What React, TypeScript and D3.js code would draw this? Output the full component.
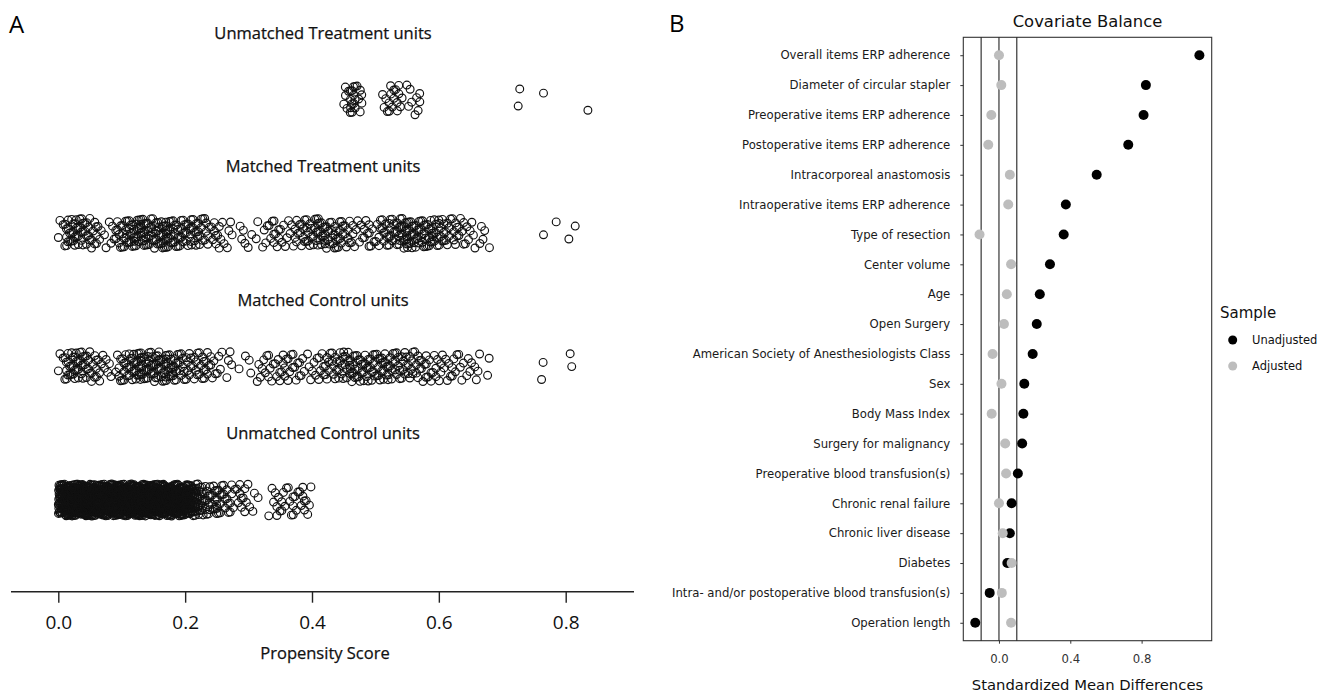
import * as d3 from 'd3'
import { useEffect, useRef } from 'react'

// Panel A: propensity score counts per 0.01 bin, starting at 0.00
const binWidth = 0.01

const unmatchedTreatedCounts = [
    0, 0, 0, 0, 0, 0, 0, 0, 0, 0,
    0, 0, 0, 0, 0, 0, 0, 0, 0, 0,
    0, 0, 0, 0, 0, 0, 0, 0, 0, 0,
    0, 0, 0, 0, 0, 0, 0, 0, 0, 0,
    0, 0, 0, 0, 0, 5, 13, 6, 0, 0,
    0, 4, 7, 6, 2, 3, 5, 0, 0, 0,
    0, 0, 0, 0, 0, 0, 0, 0, 0, 0,
    0, 0, 2, 0, 0, 0, 1, 0, 0, 0,
    0, 0, 0, 1,
]

const matchedTreatedCounts = [
    3, 10, 12, 11, 9, 7, 4, 2, 4, 8,
    11, 12, 12, 13, 12, 12, 13, 12, 11, 10,
    10, 9, 8, 7, 6, 5, 3, 2, 2, 3,
    1, 2, 4, 5, 5, 4, 4, 6, 8, 9,
    10, 10, 9, 10, 9, 7, 5, 4, 5, 5,
    6, 8, 10, 11, 12, 12, 11, 12, 10, 10,
    9, 7, 7, 6, 4, 3, 3, 2, 0, 0,
    0, 0, 0, 0, 0, 0, 1, 0, 1, 0,
    1, 1,
]

const matchedControlCounts = [
    3, 10, 12, 11, 9, 7, 5, 4, 2, 6,
    9, 11, 12, 12, 12, 13, 12, 12, 10, 9,
    8, 7, 7, 6, 5, 4, 2, 2, 1, 1,
    2, 3, 4, 5, 5, 6, 5, 5, 4, 3,
    4, 6, 7, 8, 8, 9, 10, 9, 10, 9,
    9, 9, 8, 9, 8, 8, 7, 6, 5, 5,
    5, 4, 5, 4, 3, 3, 2, 2, 0, 0,
    0, 0, 0, 0, 0, 0, 2, 0, 0, 0,
    2,
]

const unmatchedControlCounts = [
    45, 60, 60, 60, 60, 58, 56, 56, 56, 55,
    55, 55, 54, 54, 52, 52, 50, 48, 46, 42,
    38, 28, 16, 12, 10, 9, 8, 6, 6, 5,
    3, 1, 0, 3, 5, 5, 4, 5, 6, 4,
]

const groupTitles = [
    'Unmatched Treatment units',
    'Matched Treatment units',
    'Matched Control units',
    'Unmatched Control units',
]
const psTicks = [0, 0.2, 0.4, 0.6, 0.8]

// Panel B: standardized mean differences
const covariates = [
    'Overall items ERP adherence',
    'Diameter of circular stapler',
    'Preoperative items ERP adherence',
    'Postoperative items ERP adherence',
    'Intracorporeal anastomosis',
    'Intraoperative items ERP adherence',
    'Type of resection',
    'Center volume',
    'Age',
    'Open Surgery',
    'American Society of Anesthesiologists Class',
    'Sex',
    'Body Mass Index',
    'Surgery for malignancy',
    'Preoperative blood transfusion(s)',
    'Chronic renal failure',
    'Chronic liver disease',
    'Diabetes',
    'Intra- and/or postoperative blood transfusion(s)',
    'Operation length',
]
const smdUnadjusted = [
    1.124, 0.824, 0.811, 0.725, 0.548, 0.375, 0.363, 0.286, 0.229, 0.212,
    0.189, 0.142, 0.137, 0.13, 0.106, 0.071, 0.061, 0.047, -0.052, -0.133,
]
const smdAdjusted = [
    0.0, 0.013, -0.043, -0.06, 0.061, 0.052, -0.109, 0.068, 0.044, 0.028,
    -0.036, 0.014, -0.041, 0.035, 0.04, 0.0, 0.021, 0.071, 0.016, 0.068,
]
const smdTicks = [0, 0.4, 0.8]
const thresholds = [-0.1, 0, 0.1]
const sampleLabels = ['Unadjusted', 'Adjusted']
const sampleColors = ['#000000', '#bdbdbd']

const fontA = '"Open Sans", sans-serif'
const fontB = '"DejaVu Sans", sans-serif'

// place each bin's points with an R2 low-discrepancy jitter (x inside bin, y in band)
function jitterPoints(counts: number[]) {
    const pts: { score: number; u: number }[] = []
    let i = 0
    counts.forEach((n, k) => {
        for (let j = 0; j < n; j++) {
            i++
            const fx = n === 1 ? 0.5 : (0.5 + i * 0.7548776662) % 1
            pts.push({
                score: (k + fx) * binWidth,
                u: (0.5 + i * 0.569840291) % 1,
            })
        }
    })
    return pts
}

export default function App() {
    const ref = useRef<SVGSVGElement>(null)

    useEffect(() => {
        const svg = d3.select(ref.current)
        svg.selectAll('*').remove()

        // ---------- Panel A ----------
        const xPs = d3.scaleLinear().domain([0, 0.8]).range([58.3, 565.7])
        const yRow = d3.scalePoint().domain(groupTitles).range([100, 500])
        const rows = [
            unmatchedTreatedCounts,
            matchedTreatedCounts,
            matchedControlCounts,
            unmatchedControlCounts,
        ]

        svg.append('text')
            .attr('x', 9)
            .attr('y', 33)
            .attr('font-family', fontA)
            .attr('font-size', 24)
            .text('A')

        const gA = svg.append('g')

        groupTitles.forEach((title, r) => {
            const cy = yRow(title) as number
            gA.append('text')
                .attr('x', 323)
                .attr('y', cy - 61)
                .attr('text-anchor', 'middle')
                .attr('font-family', fontA)
                .attr('font-size', 16.5)
                .attr('fill', '#111')
                .attr('stroke', '#111')
                .attr('stroke-width', 0.25)
                .text(title)

            const amp = r === 3 ? 16 : 15
            gA.append('g')
                .selectAll('circle')
                .data(jitterPoints(rows[r]))
                .enter()
                .append('circle')
                .attr('cx', (d) => xPs(d.score))
                .attr('cy', (d) => cy + (d.u - 0.5) * 2 * amp)
                .attr('r', 3.9)
                .attr('fill', 'none')
                .attr('stroke', '#111')
                .attr('stroke-width', 1.15)
        })

        gA.append('line')
            .attr('x1', 11)
            .attr('x2', 634)
            .attr('y1', 591.7)
            .attr('y2', 591.7)
            .attr('stroke', '#222')
            .attr('stroke-width', 1.4)

        const axisPs = d3
            .axisBottom(xPs)
            .tickValues(psTicks)
            .tickFormat(d3.format('.1f'))
            .tickSize(11)
            .tickSizeOuter(0)
            .tickPadding(13)
        const gAxA = gA.append('g').attr('transform', 'translate(0, 591.7)').call(axisPs)
        gAxA.select('.domain').remove()
        gAxA.selectAll('.tick line').attr('stroke', '#222').attr('stroke-width', 1.4)
        gAxA.selectAll('.tick text')
            .attr('font-family', fontA)
            .attr('font-size', 19)
            .attr('fill', '#111')

        gA.append('text')
            .attr('x', 325)
            .attr('y', 659)
            .attr('text-anchor', 'middle')
            .attr('font-family', fontA)
            .attr('font-size', 16.5)
            .attr('fill', '#111')
            .attr('stroke', '#111')
            .attr('stroke-width', 0.25)
            .text('Propensity Score')

        // ---------- Panel B ----------
        const xSmd = d3.scaleLinear().domain([-0.2, 1.193]).range([963.3, 1211.7])
        const yCov = d3.scalePoint().domain(covariates).range([37.3, 640.7]).padding(0.6)

        svg.append('text')
            .attr('x', 669)
            .attr('y', 32)
            .attr('font-family', fontA)
            .attr('font-size', 24)
            .text('B')

        const gB = svg.append('g')

        gB.append('text')
            .attr('x', 1087.5)
            .attr('y', 27)
            .attr('text-anchor', 'middle')
            .attr('font-family', fontB)
            .attr('font-size', 16.4)
            .attr('fill', '#111')
            .text('Covariate Balance')

        gB.append('rect')
            .attr('x', 963.3)
            .attr('y', 37.3)
            .attr('width', 248.4)
            .attr('height', 603.4)
            .attr('fill', 'none')
            .attr('stroke', '#333')
            .attr('stroke-width', 1.1)

        gB.selectAll('.thr')
            .data(thresholds)
            .enter()
            .append('line')
            .attr('class', 'thr')
            .attr('x1', (d) => xSmd(d))
            .attr('x2', (d) => xSmd(d))
            .attr('y1', 37.3)
            .attr('y2', 640.7)
            .attr('stroke', '#222')
            .attr('stroke-width', 1.1)

        const axisCov = d3.axisLeft(yCov).tickSize(3).tickPadding(10)
        const gAxL = gB.append('g').attr('transform', 'translate(963.3, 0)').call(axisCov)
        gAxL.select('.domain').remove()
        gAxL.selectAll('.tick line').attr('stroke', '#333')
        gAxL.selectAll('.tick text')
            .attr('font-family', fontB)
            .attr('font-size', 11.7)
            .attr('fill', '#1a1a1a')

        const axisSmd = d3
            .axisBottom(xSmd)
            .tickValues(smdTicks)
            .tickFormat(d3.format('.1f'))
            .tickSize(3)
            .tickSizeOuter(0)
            .tickPadding(11)
        const gAxB = gB.append('g').attr('transform', 'translate(0, 640.7)').call(axisSmd)
        gAxB.select('.domain').remove()
        gAxB.selectAll('.tick line').attr('stroke', '#333')
        gAxB.selectAll('.tick text')
            .attr('font-family', fontB)
            .attr('font-size', 11.7)
            .attr('fill', '#333')

        gB.append('text')
            .attr('x', 1087.5)
            .attr('y', 690)
            .attr('text-anchor', 'middle')
            .attr('font-family', fontB)
            .attr('font-size', 14.8)
            .attr('fill', '#111')
            .text('Standardized Mean Differences')

        const seriesB = [smdUnadjusted, smdAdjusted]
        seriesB.forEach((vals, s) => {
            gB.append('g')
                .selectAll('circle')
                .data(vals)
                .enter()
                .append('circle')
                .attr('cx', (d) => xSmd(d))
                .attr('cy', (d, i) => yCov(covariates[i]) as number)
                .attr('r', 5)
                .attr('fill', sampleColors[s])
        })

        // legend
        const legend = gB.append('g')
        legend.append('text')
            .attr('x', 1220)
            .attr('y', 318)
            .attr('font-family', fontB)
            .attr('font-size', 15)
            .attr('fill', '#111')
            .text('Sample')
        sampleLabels.forEach((lab, s) => {
            const cy = 340 + s * 26
            legend.append('circle')
                .attr('cx', 1232.7)
                .attr('cy', cy)
                .attr('r', 4.5)
                .attr('fill', sampleColors[s])
            legend.append('text')
                .attr('x', 1252)
                .attr('y', cy + 4.2)
                .attr('font-family', fontB)
                .attr('font-size', 11.5)
                .attr('fill', '#111')
                .text(lab)
        })
    }, [])

    return (
        <svg
            ref={ref}
            width={1320}
            height={692}
            style={{ position: 'absolute', left: 0, top: 0, background: '#fff' }}
        />
    )
}
